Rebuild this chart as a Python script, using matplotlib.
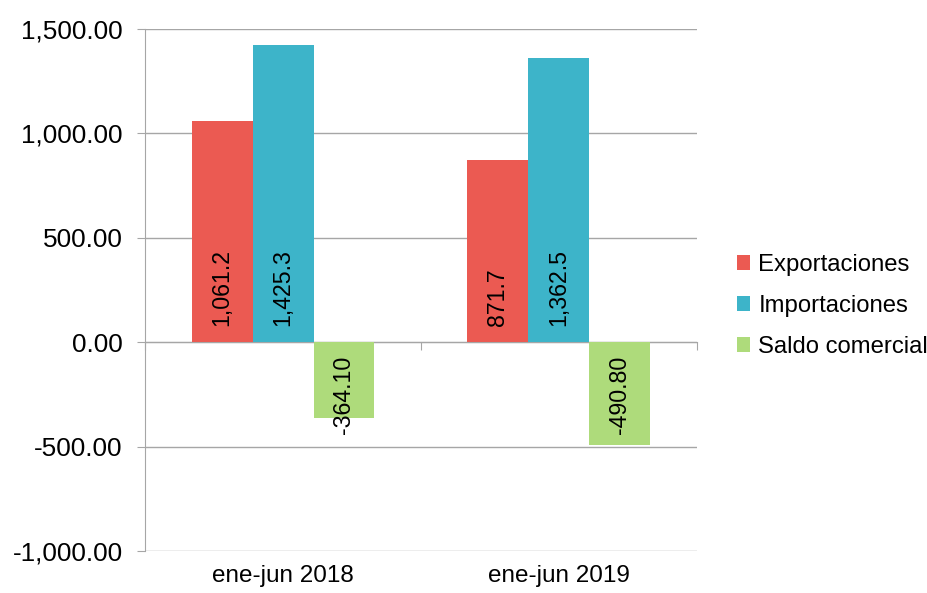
import numpy as np
import matplotlib
matplotlib.use("Agg")
import matplotlib.pyplot as plt
from matplotlib.ticker import FuncFormatter

plt.rcParams['font.family'] = ['Liberation Sans', 'DejaVu Sans']

periods = ["ene-jun 2018", "ene-jun 2019"]
series = ["Exportaciones", "Importaciones", "Saldo comercial"]
exportaciones = [1061.2, 871.7]
importaciones = [1425.3, 1362.5]
saldo = [-364.10, -490.80]
label_fmt = ["{:,.1f}", "{:,.1f}", "{:,.2f}"]
colors = ["#EB5A52", "#3DB4C9", "#AEDB7B"]
GRAY = "#A6A6A6"

fig = plt.figure(figsize=(9.28, 5.93), dpi=100)
ax = fig.add_axes([0.1563, 0.0708, 0.751 - 0.1563, 0.951 - 0.0708])

x = np.arange(len(periods))
w = 0.221
ylo, yhi = -1000, 1500
for k, (name, vals) in enumerate(zip(series, [exportaciones, importaciones, saldo])):
    pos = x + (k - 1) * w
    ax.bar(pos, vals, width=w, color=colors[k], label=name, zorder=3)
    for xi, v in zip(pos, vals):
        ax.annotate(label_fmt[k].format(v), (xi, 0),
                    xytext=(0, 12 if v >= 0 else -10), textcoords="offset points",
                    rotation=90, ha="center", va="bottom" if v >= 0 else "top",
                    fontsize=16.7, zorder=4)

ax.set_xlim(-0.5, len(periods) - 0.5)
ax.set_ylim(ylo, yhi)
ax.set_yticks(np.arange(ylo, yhi + 1, 500))
ax.yaxis.set_major_formatter(FuncFormatter(lambda v, p: f"{v:,.2f}"))
ax.grid(axis="y", color=GRAY, linewidth=1, zorder=0)
ax.set_axisbelow(True)

for s in ["top", "right", "bottom"]:
    ax.spines[s].set_visible(False)
ax.spines["left"].set_color(GRAY)
ax.tick_params(axis="y", length=6, color=GRAY, labelsize=18.8, pad=10, direction="out")
ax.set_xticks(x, periods)
ax.tick_params(axis="x", length=0, labelsize=17.5, pad=10)

# zero axis line with category-boundary ticks
sec = ax.secondary_xaxis((0 - ylo) / (yhi - ylo))
sec.set_xticks(np.arange(len(periods) + 1) - 0.5, [""] * (len(periods) + 1))
sec.spines["bottom"].set_color(GRAY)
sec.tick_params(axis="x", length=6, color=GRAY, direction="out")

fig.legend(loc="center left", bbox_to_anchor=(0.794, 0.484), frameon=False,
           fontsize=17.2, handlelength=0.55, handleheight=0.55, handletextpad=0.35,
           labelspacing=0.8, borderaxespad=0, borderpad=0)

fig.savefig("out.png", dpi=100)
